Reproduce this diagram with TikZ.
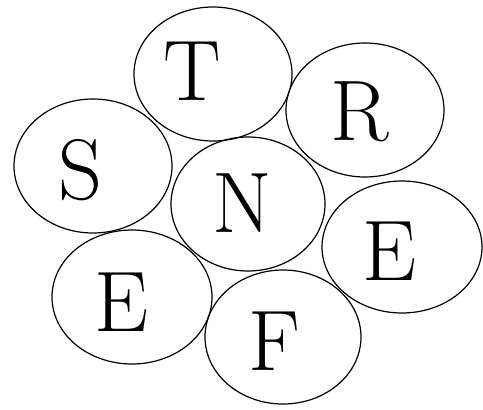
\documentclass[tikz,border=0pt]{standalone}
\usepackage{tikz}
\usetikzlibrary{shapes.geometric}

\begin{document}
\begin{tikzpicture}[
    x=1pt, y=-1pt,
    blob/.style={draw, ellipse, line width=1.2pt, inner sep=0pt, minimum width=158pt, minimum height=134pt},
    letter/.style={font=\fontsize{86}{86}\selectfont, inner sep=0pt},
]
\useasboundingbox (0,0) rectangle (483,410);

% circles
\node[blob] (bt) at (213,74) {};
\node[blob] (br) at (365,110) {};
\node[blob] (bs) at (93,166) {};
\node[blob, minimum width=154pt] (bn) at (248,204) {};
\node[blob, minimum width=160pt, minimum height=132pt] (be2) at (402,247) {};
\node[blob, minimum width=160pt] (be1) at (132,297) {};
\node[blob, minimum width=156pt] (bf) at (283,337) {};

% letters
\node[letter] (t) at (192,71) {T};
\node[letter] (r) at (360,112) {R};
\node[letter] (s) at (80,170) {S};
\node[letter] (n) at (242,203) {N};
\node[letter] (e2) at (390,251) {E};
\node[letter] (e1) at (122,302) {E};
\node[letter] (f) at (274,341) {F};

\end{tikzpicture}
\end{document}
